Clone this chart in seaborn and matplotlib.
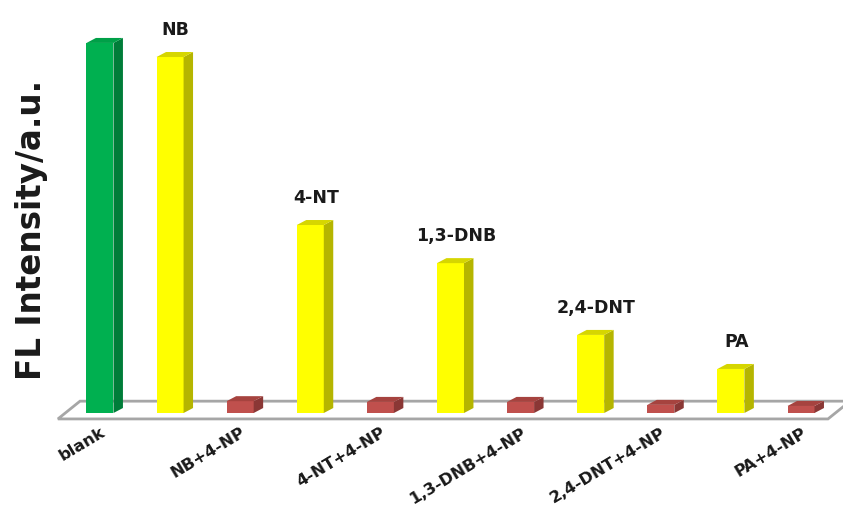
import matplotlib
matplotlib.use("Agg")
import matplotlib.pyplot as plt
from matplotlib.patches import Polygon
from matplotlib.transforms import ScaledTranslation
import seaborn as sns
import pandas as pd

# Fluorescence intensity (a.u.) of the sensor alone, with each nitroaromatic,
# and with each nitroaromatic plus 4-NP
categories = ["blank", "NB", "NB+4-NP", "4-NT", "4-NT+4-NP", "1,3-DNB",
              "1,3-DNB+4-NP", "2,4-DNT", "2,4-DNT+4-NP", "PA", "PA+4-NP"]
intensity = [1000, 962, 32, 508, 30, 405, 30, 211, 22, 119, 19]
group = ["blank", "analyte", "mixture", "analyte", "mixture", "analyte",
         "mixture", "analyte", "mixture", "analyte", "mixture"]

df = pd.DataFrame({"sample": categories, "intensity": intensity, "group": group})

# front / side / top face colours for the pseudo-3D columns
front = {"blank": "#00b050", "analyte": "#ffff00", "mixture": "#c0504d"}
side = {"blank": "#007d39", "analyte": "#b5b500", "mixture": "#8a3735"}
top = {"blank": "#00a048", "analyte": "#d6d600", "mixture": "#a6433f"}

sns.set_theme(style="white")
plt.rcParams["font.family"] = ["DejaVu Sans"]

W, H = 843, 509
fig = plt.figure(figsize=(W / 100, H / 100), dpi=100)
ax = fig.add_axes([50 / W, (H - 425) / H, (W - 50) / W, (425 - 20) / H])

sns.barplot(data=df, x="sample", y="intensity", hue="group", palette=front,
            order=categories, hue_order=["blank", "analyte", "mixture"],
            dodge=False, width=0.385, legend=False, saturation=1,
            linewidth=0, ax=ax, zorder=3)

ax.set_xlim(-0.713, 10.599)
ax.set_ylim(-32.4, 1062)

# depth of the columns in data units
dx, dy = 0.135, 13.5

# floor plate under the columns
n = len(categories)
floor_y0, floor_y1 = -16, 32
floor = Polygon([(-0.6, floor_y0), (n - 1 + 0.385, floor_y0),
                 (n - 1 + 0.7, floor_y1), (-0.285, floor_y1)],
                closed=True, facecolor="white", edgecolor="#a6a6a6",
                linewidth=2, zorder=1, clip_on=False)
ax.add_patch(floor)

# side and top faces for every column
for bar in list(ax.patches):
    if bar is floor:
        continue
    x0, w, h = bar.get_x(), bar.get_width(), bar.get_height()
    if w <= 0:
        continue
    xc = x0 + w / 2
    idx = int(round(xc))
    g = group[idx]
    ax.add_patch(Polygon([(x0 + w, 0), (x0 + w + dx, dy), (x0 + w + dx, h + dy),
                          (x0 + w, h)], closed=True, facecolor=side[g],
                         edgecolor="none", zorder=3))
    ax.add_patch(Polygon([(x0, h), (x0 + dx, h + dy), (x0 + w + dx, h + dy),
                          (x0 + w, h)], closed=True, facecolor=top[g],
                         edgecolor="none", zorder=3))

# analyte names above the yellow columns
for i, (name, val, g) in enumerate(zip(categories, intensity, group)):
    if g == "analyte":
        ax.annotate(name, xy=(i, val), xytext=(4, 13), textcoords="offset points",
                    ha="center", va="bottom", fontsize=12.5, fontweight="bold",
                    color="#1a1a1a")

# rotated sample names under the floor
ax.set_xticks(range(n))
ax.set_xticklabels([c if g != "analyte" else "" for c, g in zip(categories, group)],
                   rotation=31, ha="right", rotation_mode="anchor",
                   fontsize=11.8, fontweight="bold", color="#1a1a1a")
shift = ScaledTranslation(13 / 72, 2.5 / 72, fig.dpi_scale_trans)
for lab in ax.get_xticklabels():
    lab.set_transform(lab.get_transform() + shift)
ax.tick_params(axis="x", length=0, pad=0)
ax.set_yticks([])
ax.set_xlabel("")
ax.set_ylabel("FL Intensity/a.u.", fontsize=23.5, fontweight="bold", color="#1a1a1a")
ax.yaxis.set_label_coords(-0.0227, 0.481)
ax.yaxis.label.set_va("center")
for s in ax.spines.values():
    s.set_visible(False)

fig.savefig("out.png", dpi=100)
